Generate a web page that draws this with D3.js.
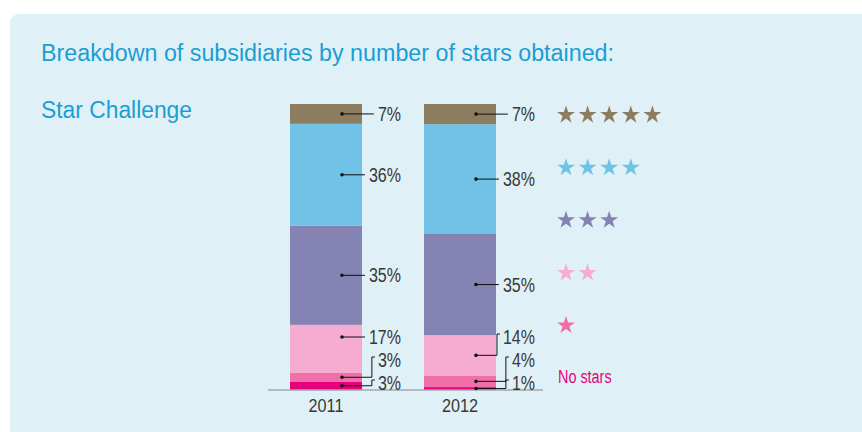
<!DOCTYPE html>
<html>
<head>
<meta charset="utf-8">
<script src="https://cdn.jsdelivr.net/npm/d3@7"></script>
<style>
  body { margin: 0; background: #fff; }
  svg { display: block; }
  .pct { font-family: "Liberation Sans", Arial, sans-serif; font-size: 20px; fill: #383838; }
  .year { font-family: "Liberation Sans", Arial, sans-serif; font-size: 18px; fill: #383838; }
  .head { font-family: "Liberation Sans", Arial, sans-serif; font-size: 23px; fill: #1b9dd5; }
</style>
</head>
<body>
<div id="vis"></div>
<script>
// chart values
let years = ["2011", "2012"]
let categories = ["5 stars", "4 stars", "3 stars", "2 stars", "1 star", "No stars"]
let starCounts = [5, 4, 3, 2, 1, 0]
let values2011 = [7, 36, 35, 17, 3, 3]
let values2012 = [7, 38, 35, 14, 4, 1]
let colors = ["#8c7d60", "#70c2e6", "#8583b4", "#f6abd0", "#f06fa9", "#e6007e"]

let rows = years.map((y, i) => {
    let vals = i === 0 ? values2011 : values2012
    let r = { year: y }
    categories.forEach((c, j) => r[c] = vals[j])
    return r
})

let width = 862, height = 432
let squeeze = 0.8

// squeeze a text horizontally (the original uses a condensed face)
function narrow(sel, k) {
    sel.each(function () {
        let w = this.getComputedTextLength()
        d3.select(this).attr("textLength", w * k).attr("lengthAdjust", "spacingAndGlyphs")
    })
}

let svg = d3.select("#vis").append("svg")
    .attr("width", width)
    .attr("height", height)

// panel
svg.append("rect")
    .attr("x", 10).attr("y", 14)
    .attr("width", width + 20).attr("height", height + 20)
    .attr("rx", 9)
    .attr("fill", "#dff1f6")

svg.append("text").attr("class", "head")
    .attr("x", 41).attr("y", 61)
    .attr("textLength", 573).attr("lengthAdjust", "spacingAndGlyphs")
    .text("Breakdown of subsidiaries by number of stars obtained:")

svg.append("text").attr("class", "head")
    .attr("x", 41).attr("y", 118)
    .attr("textLength", 151).attr("lengthAdjust", "spacingAndGlyphs")
    .text("Star Challenge")

let x = d3.scaleBand()
    .domain(years)
    .range([256, 530])
    .paddingInner(62 / 134)
    .paddingOuter(34 / 134)

let y = d3.scaleLinear().domain([0, 1]).range([390, 104])

let color = d3.scaleOrdinal().domain(categories).range(colors)

let stack = d3.stack()
    .keys(categories.slice().reverse())
    .offset(d3.stackOffsetExpand)

let series = stack(rows)

let bars = svg.append("g")
series.forEach(s => {
    bars.selectAll(null)
        .data(s)
        .join("rect")
        .attr("x", d => x(d.data.year))
        .attr("width", x.bandwidth())
        .attr("y", d => y(d[1]))
        .attr("height", d => y(d[0]) - y(d[1]))
        .attr("fill", color(s.key))
})

// baseline
svg.append("line")
    .attr("x1", 268).attr("x2", 543)
    .attr("y1", y(0)).attr("y2", y(0))
    .attr("stroke", "#a3a8ab")
    .attr("stroke-width", 1.5)

// year axis
let xAxis = svg.append("g")
    .attr("transform", `translate(0, ${y(0)})`)
    .call(d3.axisBottom(x).tickSize(0).tickPadding(9))
xAxis.select(".domain").remove()
xAxis.attr("font-size", null).attr("font-family", null)
xAxis.selectAll("text").attr("class", "year")
narrow(xAxis.selectAll("text"), 0.9)

// value labels with leader lines
let labels = svg.append("g")
years.forEach((yr, i) => {
    let segs = series.map(s => {
        let d = s[i]
        return { key: s.key, value: d.data[s.key], top: y(d[1]), bottom: y(d[0]) }
    }) // bottom first
    let right = x(yr) + x.bandwidth() + 39
    let dotX = x(yr) + 52
    let prev = 383 + 23
    segs.forEach(sg => {
        let c = (sg.top + sg.bottom) / 2
        let ty = Math.min(c, prev - 23)
        prev = ty
        let t = labels.append("text").attr("class", "pct")
            .attr("y", ty)
            .attr("dy", "0.35em")
            .text(sg.value + "%")
        let w = t.node().getComputedTextLength() * squeeze
        let start = right - w
        t.attr("x", start).attr("textLength", w).attr("lengthAdjust", "spacingAndGlyphs")
        let straight = ty >= sg.top + 4 && ty <= sg.bottom - 4
        let dotY = straight ? ty : c
        let path = straight
            ? `M${dotX},${dotY}H${start - 4}`
            : `M${dotX},${dotY}H${start - 6}V${ty - 3}H${start - 3}`
        labels.append("path")
            .attr("d", path)
            .attr("fill", "none")
            .attr("stroke", "#111")
            .attr("stroke-width", 1)
        labels.append("circle")
            .attr("cx", dotX).attr("cy", dotY).attr("r", 1.8)
            .attr("fill", "#111")
    })
})

// legend
let ly = d3.scalePoint().domain(categories).range([114, 377])
let star = d3.symbol(d3.symbolStar, 100)
let legend = svg.append("g")
categories.forEach((c, j) => {
    let n = starCounts[j]
    if (n === 0) {
        let t = legend.append("text")
            .attr("x", 558).attr("y", ly(c))
            .attr("dy", "0.35em")
            .attr("font-family", "'Liberation Sans', Arial, sans-serif")
            .attr("font-size", 18)
            .attr("fill", color(c))
            .text("No stars")
        narrow(t, 0.8)
    } else {
        legend.selectAll(null)
            .data(d3.range(n))
            .join("path")
            .attr("d", star)
            .attr("transform", k => `translate(${566 + k * 21.6}, ${ly(c) + 1})`)
            .attr("fill", color(c))
    }
})
</script>
</body>
</html>
